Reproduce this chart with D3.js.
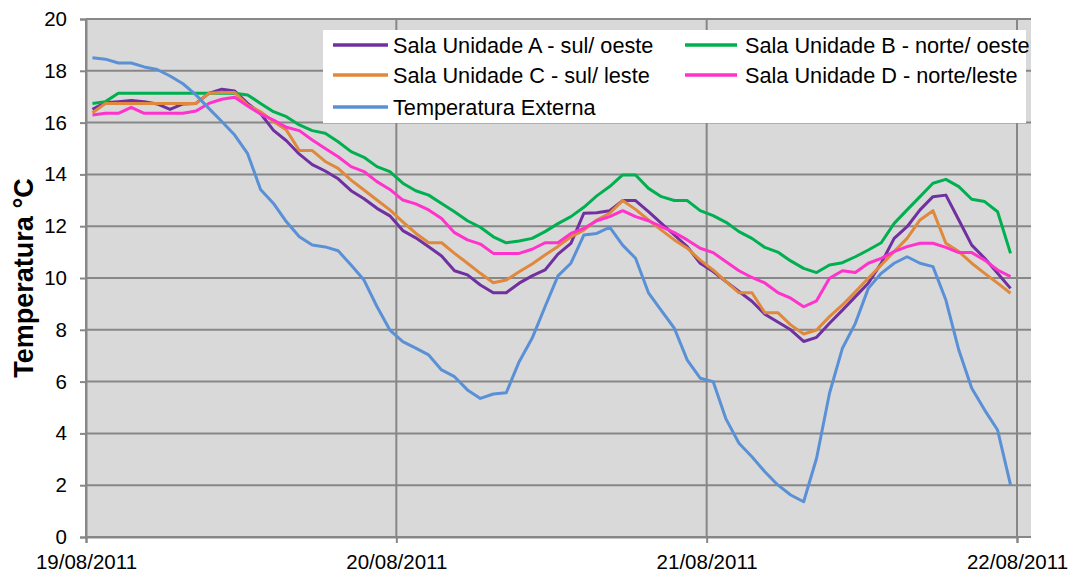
<!DOCTYPE html>
<html>
<head>
<meta charset="utf-8">
<script src="https://cdn.jsdelivr.net/npm/d3@7"></script>
<style>
  body { margin: 0; background: #fff; }
  svg { display: block; font-family: "Liberation Sans", Arial, sans-serif; }
</style>
</head>
<body>
<div id="chart"></div>
<script>
// Hourly readings, 19/08/2011 00:30 to 21/08/2011 23:30
const startDate = new Date(2011, 7, 19);
const dayTicks = [new Date(2011, 7, 19), new Date(2011, 7, 20), new Date(2011, 7, 21), new Date(2011, 7, 22)];
const yTicks = [0, 2, 4, 6, 8, 10, 12, 14, 16, 18, 20];

const salaA = [16.51, 16.77, 16.81, 16.85, 16.81, 16.72, 16.51, 16.72, 16.74, 17.13, 17.29, 17.22, 16.74, 16.35, 15.7, 15.3, 14.78, 14.38, 14.13,
  13.83, 13.37, 13.06, 12.69, 12.4, 11.83, 11.55, 11.21, 10.85, 10.28, 10.12, 9.73, 9.43, 9.43, 9.8, 10.08, 10.31, 10.92,
  11.34, 12.5, 12.52, 12.6, 12.99, 12.99, 12.56, 12.11, 11.66, 11.21, 10.57, 10.25,
  9.86, 9.48, 9.1, 8.6, 8.3, 8.0, 7.55, 7.71, 8.25, 8.76, 9.28, 9.8, 10.57, 11.53, 11.98, 12.63, 13.14, 13.2, 12.24, 11.27, 10.76, 10.18, 9.6];
const salaB = [16.74, 16.81, 17.13, 17.13, 17.13, 17.13, 17.13, 17.13, 17.13, 17.13, 17.13, 17.13, 17.07, 16.74, 16.42, 16.23, 15.91, 15.69, 15.59,
  15.26, 14.88, 14.66, 14.3, 14.11, 13.66, 13.37, 13.2, 12.88, 12.56, 12.21, 11.96, 11.59, 11.36, 11.43, 11.53, 11.79, 12.1,
  12.37, 12.73, 13.17, 13.53, 13.98, 13.98, 13.46, 13.14, 12.99, 12.99, 12.6, 12.41,
  12.15, 11.79, 11.53, 11.18, 11.0, 10.66, 10.37, 10.21, 10.5, 10.59, 10.82, 11.08, 11.36, 12.11, 12.63, 13.14, 13.66, 13.81, 13.53, 13.04, 12.95, 12.56, 10.95];
const salaC = [16.38, 16.74, 16.74, 16.74, 16.74, 16.74, 16.74, 16.74, 16.74, 17.13, 17.16, 17.16, 16.68, 16.42, 16.04, 15.71, 14.92, 14.92, 14.5,
  14.23, 13.78, 13.4, 13.01, 12.63, 12.17, 11.73, 11.36, 11.36, 10.95, 10.57, 10.18, 9.82, 9.92, 10.24, 10.54, 10.89, 11.22,
  11.59, 11.85, 12.24, 12.5, 12.99, 12.65, 12.24, 11.85, 11.47, 11.15, 10.69, 10.31,
  9.86, 9.43, 9.43, 8.66, 8.66, 8.19, 7.84, 7.99, 8.51, 8.96, 9.47, 9.99, 10.5, 11.02, 11.53, 12.24, 12.6, 11.34, 11.02, 10.57, 10.18, 9.8, 9.41];
const salaD = [16.29, 16.36, 16.36, 16.59, 16.36, 16.36, 16.36, 16.36, 16.45, 16.74, 16.9, 16.98, 16.64, 16.33, 16.1, 15.82, 15.69, 15.33, 15.0,
  14.68, 14.3, 14.11, 13.72, 13.42, 13.01, 12.86, 12.63, 12.3, 11.75, 11.47, 11.31, 10.95, 10.95, 10.95, 11.11, 11.36, 11.36,
  11.72, 11.92, 12.21, 12.37, 12.6, 12.37, 12.21, 11.98, 11.75, 11.47, 11.15, 10.98,
  10.63, 10.28, 10.02, 9.81, 9.44, 9.22, 8.89, 9.12, 9.99, 10.28, 10.21, 10.57, 10.76, 11.02, 11.21, 11.34, 11.34, 11.18, 10.98, 10.98, 10.69, 10.31, 10.05];
const externa = [18.5, 18.45, 18.3, 18.3, 18.15, 18.05, 17.8, 17.5, 17.07, 16.55, 16.04, 15.52, 14.8, 13.42, 12.88, 12.17, 11.59, 11.27, 11.2,
  11.05, 10.5, 9.92, 8.9, 7.99, 7.54, 7.29, 7.03, 6.45, 6.19, 5.68, 5.35, 5.52, 5.57, 6.77, 7.67, 8.89, 10.08,
  10.57, 11.66, 11.72, 11.96, 11.27, 10.76, 9.43, 8.74, 8.06, 6.83, 6.13, 6.0,
  4.55, 3.62, 3.1, 2.52, 2.01, 1.62, 1.36, 3.04, 5.55, 7.29, 8.25, 9.6, 10.18, 10.57, 10.82, 10.57, 10.44, 9.15, 7.22, 5.74, 4.9, 4.13, 2.01];

const seriesNames = ["Sala Unidade A - sul/ oeste", "Sala Unidade B - norte/ oeste", "Sala Unidade C - sul/ leste", "Sala Unidade D - norte/leste", "Temperatura Externa"];
const seriesValues = [salaA, salaB, salaC, salaD, externa];
const seriesColors = ["#7030a0", "#00b050", "#e0883c", "#ff33cc", "#5a90d6"];

const width = 1085, height = 577;
const plotLeft = 86, plotRight = 1031, plotTop = 19, plotBottom = 537;

const svg = d3.select("#chart").append("svg")
    .attr("width", width)
    .attr("height", height);

const x = d3.scaleTime()
    .domain([dayTicks[0], dayTicks[3]])
    .range([86, 1017]);
const y = d3.scaleLinear()
    .domain([0, 20])
    .range([plotBottom, plotTop]);

// Plot background
svg.append("rect")
    .attr("x", plotLeft)
    .attr("y", plotTop)
    .attr("width", plotRight - plotLeft)
    .attr("height", plotBottom - plotTop)
    .attr("fill", "#d9d9d9");

// Horizontal gridlines
svg.append("g")
    .selectAll("line")
    .data(yTicks)
    .join("line")
    .attr("x1", plotLeft)
    .attr("x2", plotRight)
    .attr("y1", d => y(d))
    .attr("y2", d => y(d))
    .attr("stroke", "#878787")
    .attr("stroke-width", 2);

// Vertical gridlines
svg.append("g")
    .selectAll("line")
    .data(dayTicks)
    .join("line")
    .attr("x1", d => x(d))
    .attr("x2", d => x(d))
    .attr("y1", plotTop)
    .attr("y2", plotBottom)
    .attr("stroke", "#878787")
    .attr("stroke-width", 2);

// Axes
const fmt = d3.timeFormat("%d/%m/%Y");
const yAxis = svg.append("g")
    .attr("transform", `translate(${plotLeft},0)`)
    .call(d3.axisLeft(y).tickValues(yTicks).tickSize(6).tickPadding(13));
const xAxis = svg.append("g")
    .attr("transform", `translate(0,${plotBottom})`)
    .call(d3.axisBottom(x).tickValues(dayTicks).tickFormat(fmt).tickSize(6).tickPadding(5));

[yAxis, xAxis].forEach(ax => {
    ax.select(".domain").attr("stroke", "#878787").attr("stroke-width", 2);
    ax.selectAll(".tick line").attr("stroke", "#878787").attr("stroke-width", 2);
    ax.selectAll("text")
        .attr("fill", "#000")
        .style("font-family", "'Liberation Sans', Arial, sans-serif")
        .style("font-size", "20.5px");
});
xAxis.selectAll("text").attr("dy", "1em");

// Axis title
svg.append("text")
    .attr("transform", `translate(33,${(plotTop + plotBottom) / 2}) rotate(-90)`)
    .attr("text-anchor", "middle")
    .attr("font-size", "27px")
    .attr("font-weight", "bold")
    .attr("fill", "#000")
    .text("Temperatura °C");

// Lines
const line = d3.line()
    .x((d, i) => x(d3.timeMinute.offset(startDate, 30 + 60 * i)))
    .y(d => y(d));

svg.append("g")
    .selectAll("path")
    .data(seriesValues)
    .join("path")
    .attr("d", d => line(d))
    .attr("fill", "none")
    .attr("stroke", (d, i) => seriesColors[i])
    .attr("stroke-width", 3)
    .attr("stroke-linejoin", "round");

// Legend
const legend = svg.append("g");
legend.append("rect")
    .attr("x", 323)
    .attr("y", 30)
    .attr("width", 703)
    .attr("height", 93)
    .attr("fill", "#fff");

const legendPos = [[333, 45], [685, 45], [333, 75], [685, 75], [333, 107]];
const item = legend.selectAll("g.item")
    .data(seriesNames)
    .join("g")
    .attr("class", "item")
    .attr("transform", (d, i) => `translate(${legendPos[i][0]},${legendPos[i][1]})`);

item.append("line")
    .attr("x1", 0)
    .attr("x2", (d, i) => i % 2 === 0 ? 55 : 52)
    .attr("stroke", (d, i) => seriesColors[i])
    .attr("stroke-width", 3.5);

item.append("text")
    .attr("x", 60)
    .attr("dy", "0.35em")
    .attr("font-size", "21.7px")
    .attr("fill", "#000")
    .text(d => d);
</script>
</body>
</html>
